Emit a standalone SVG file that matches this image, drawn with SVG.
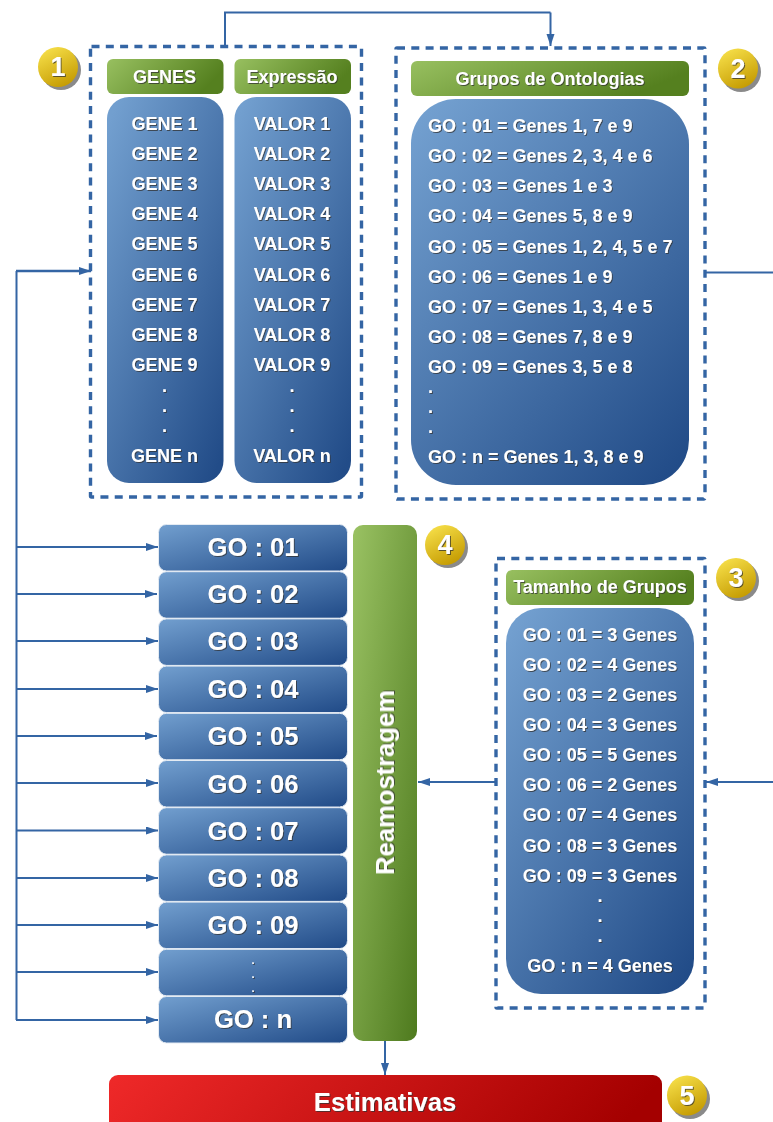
<svg xmlns="http://www.w3.org/2000/svg" width="773" height="1122" viewBox="0 0 773 1122">
<defs>
<linearGradient id="blue" x1="0" y1="0" x2="1" y2="1"><stop offset="0" stop-color="#729fcf"/><stop offset="1" stop-color="#204a87"/></linearGradient>
<linearGradient id="green" x1="0" y1="0" x2="1" y2="1"><stop offset="0" stop-color="#9ac263"/><stop offset="1" stop-color="#4e7a1e"/></linearGradient>
<linearGradient id="greenH" x1="0" y1="0" x2="1" y2="0.3"><stop offset="0" stop-color="#98c060"/><stop offset="1" stop-color="#55801f"/></linearGradient>
<linearGradient id="red" x1="0" y1="0" x2="1" y2="0.1"><stop offset="0" stop-color="#ef2929"/><stop offset="1" stop-color="#a40000"/></linearGradient>
<linearGradient id="gold" x1="0.2" y1="0" x2="0.7" y2="1"><stop offset="0" stop-color="#f7e04a"/><stop offset="1" stop-color="#c49a00"/></linearGradient>
<linearGradient id="tall" x1="0.1" y1="0" x2="0.9" y2="1"><stop offset="0" stop-color="#729fcf"/><stop offset="1" stop-color="#224c88"/></linearGradient>
<filter id="ts" x="-10%" y="-30%" width="125%" height="170%"><feDropShadow dx="1" dy="1" stdDeviation="0.4" flood-color="#333" flood-opacity="0.75"/></filter>
<filter id="tv" x="-30%" y="-10%" width="170%" height="125%"><feDropShadow dx="1" dy="1" stdDeviation="0.4" flood-color="#333" flood-opacity="0.75"/></filter>
<marker id="arr" markerUnits="userSpaceOnUse" markerWidth="13" markerHeight="10" refX="12" refY="4" orient="auto"><path d="M0 0L12 4L0 8Z" fill="#3465a4"/></marker>
</defs>
<style>
text{font-family:"Liberation Sans",Arial,sans-serif;font-weight:700;fill:#fff;text-anchor:middle;filter:url(#ts)}
.frame{fill:none;stroke:#3465a4;stroke-width:3.4;stroke-dasharray:8 6.3}
.line{fill:none;stroke:#3465a4;stroke-width:2}
.arrow{fill:none;stroke:#3465a4;stroke-width:2;marker-end:url(#arr)}
.tall{fill:url(#tall)}
.hdr{fill:url(#greenH)}
.go{fill:url(#blue);stroke:#e4ebf3;stroke-width:1}
.t16{font-size:18px}
.tl{font-size:18px;text-anchor:start}
.tg{font-size:25.6px}
.s{font-size:18px}
.badgeS{fill:#8a8a8a}
.badge{fill:url(#gold)}
.bt{font-size:27px}
</style>

<g id="connectors">
<path class="line" d="M225 46V12.500H550.500"/>
<path class="arrow" d="M550.500 12.500V46"/>
<path class="line" d="M16.500 271V1020"/>
<path class="arrow" style="stroke-width:2.6" d="M16 271H91"/>
<path class="arrow" d="M16 547H158"/>
<path class="arrow" d="M16 594H157"/>
<path class="arrow" d="M16 641H158"/>
<path class="arrow" d="M16 689H158"/>
<path class="arrow" d="M16 736H157"/>
<path class="arrow" d="M16 783H158"/>
<path class="arrow" d="M16 830.500H158"/>
<path class="arrow" d="M16 878H158"/>
<path class="arrow" d="M16 925H158"/>
<path class="arrow" d="M16 972H158"/>
<path class="arrow" d="M16 1020H158"/>
<path class="line" d="M705 272.500H773"/>
<path class="arrow" d="M773 782H706"/>
<path class="arrow" d="M495 782H418"/>
<path class="arrow" d="M385 1041V1075"/>
</g>

<g id="node-1">
<rect class="frame" x="90.500" y="46.500" width="271" height="450.500" rx="1"/>
<rect class="hdr" x="107" y="59" width="116.500" height="35" rx="6"/>
<text class="t16" x="164.500" y="82.500">GENES</text>
<rect class="hdr" x="234.500" y="59" width="116.500" height="35" rx="6"/>
<text class="t16" x="292" y="82.500">Expressão</text>
<rect class="tall" x="107" y="97" width="116.500" height="386" rx="22"/>
<rect class="tall" x="234.500" y="97" width="116.500" height="386" rx="22"/>
<text class="s" x="164.500" y="130">GENE 1</text><text class="s" x="292" y="130">VALOR 1</text>
<text class="s" x="164.500" y="160">GENE 2</text><text class="s" x="292" y="160">VALOR 2</text>
<text class="s" x="164.500" y="190">GENE 3</text><text class="s" x="292" y="190">VALOR 3</text>
<text class="s" x="164.500" y="220">GENE 4</text><text class="s" x="292" y="220">VALOR 4</text>
<text class="s" x="164.500" y="250">GENE 5</text><text class="s" x="292" y="250">VALOR 5</text>
<text class="s" x="164.500" y="280.500">GENE 6</text><text class="s" x="292" y="280.500">VALOR 6</text>
<text class="s" x="164.500" y="310.500">GENE 7</text><text class="s" x="292" y="310.500">VALOR 7</text>
<text class="s" x="164.500" y="340.500">GENE 8</text><text class="s" x="292" y="340.500">VALOR 8</text>
<text class="s" x="164.500" y="371">GENE 9</text><text class="s" x="292" y="371">VALOR 9</text>
<text class="s" x="164.500" y="391.500">.</text><text class="s" x="292" y="391.500">.</text>
<text class="s" x="164.500" y="411.500">.</text><text class="s" x="292" y="411.500">.</text>
<text class="s" x="164.500" y="431.500">.</text><text class="s" x="292" y="431.500">.</text>
<text class="s" x="164.500" y="461.500">GENE n</text><text class="s" x="292" y="461.500">VALOR n</text>
</g>

<g id="node-2">
<rect class="frame" x="396" y="48" width="309" height="451" rx="1"/>
<rect class="hdr" x="411" y="61" width="278" height="35" rx="6"/>
<text class="t16" x="550" y="84.500">Grupos de Ontologias</text>
<rect class="tall" x="411" y="99" width="278" height="386" rx="45"/>
<text class="tl" x="428" y="132">GO : 01 = Genes 1, 7 e 9</text>
<text class="tl" x="428" y="162">GO : 02 = Genes 2, 3, 4 e 6</text>
<text class="tl" x="428" y="192">GO : 03 = Genes 1 e 3</text>
<text class="tl" x="428" y="222">GO : 04 = Genes 5, 8 e 9</text>
<text class="tl" x="428" y="252.500">GO : 05 = Genes 1, 2, 4, 5 e 7</text>
<text class="tl" x="428" y="282.500">GO : 06 = Genes 1 e 9</text>
<text class="tl" x="428" y="312.500">GO : 07 = Genes 1, 3, 4 e 5</text>
<text class="tl" x="428" y="342.500">GO : 08 = Genes 7, 8 e 9</text>
<text class="tl" x="428" y="373">GO : 09 = Genes 3, 5 e 8</text>
<text class="tl" x="428" y="393">.</text>
<text class="tl" x="428" y="413">.</text>
<text class="tl" x="428" y="433">.</text>
<text class="tl" x="428" y="463">GO : n = Genes 1, 3, 8 e 9</text>
</g>

<g id="node-3">
<rect class="frame" x="496" y="558.500" width="209" height="449.500" rx="1"/>
<rect class="hdr" x="506" y="570" width="188" height="35" rx="6"/>
<text class="t16" x="600" y="593">Tamanho de Grupos</text>
<rect class="tall" x="506" y="608" width="188" height="386" rx="35"/>
<text class="s" x="600" y="641">GO : 01 = 3 Genes</text>
<text class="s" x="600" y="671">GO : 02 = 4 Genes</text>
<text class="s" x="600" y="701">GO : 03 = 2 Genes</text>
<text class="s" x="600" y="731">GO : 04 = 3 Genes</text>
<text class="s" x="600" y="761">GO : 05 = 5 Genes</text>
<text class="s" x="600" y="791">GO : 06 = 2 Genes</text>
<text class="s" x="600" y="821">GO : 07 = 4 Genes</text>
<text class="s" x="600" y="851.500">GO : 08 = 3 Genes</text>
<text class="s" x="600" y="881.500">GO : 09 = 3 Genes</text>
<text class="s" x="600" y="902">.</text>
<text class="s" x="600" y="922">.</text>
<text class="s" x="600" y="942">.</text>
<text class="s" x="600" y="972">GO : n = 4 Genes</text>
</g>

<g id="node-4">
<rect class="go" x="158.500" y="524.500" width="189" height="46.500" rx="8"/><text class="tg" x="253" y="556">GO : 01</text>
<rect class="go" x="158.500" y="571.700" width="189" height="46.500" rx="8"/><text class="tg" x="253" y="603">GO : 02</text>
<rect class="go" x="158.500" y="618.900" width="189" height="46.500" rx="8"/><text class="tg" x="253" y="650">GO : 03</text>
<rect class="go" x="158.500" y="666.100" width="189" height="46.500" rx="8"/><text class="tg" x="253" y="698">GO : 04</text>
<rect class="go" x="158.500" y="713.300" width="189" height="46.500" rx="8"/><text class="tg" x="253" y="745">GO : 05</text>
<rect class="go" x="158.500" y="760.500" width="189" height="46.500" rx="8"/><text class="tg" x="253" y="792.500">GO : 06</text>
<rect class="go" x="158.500" y="807.700" width="189" height="46.500" rx="8"/><text class="tg" x="253" y="840">GO : 07</text>
<rect class="go" x="158.500" y="854.900" width="189" height="46.500" rx="8"/><text class="tg" x="253" y="887">GO : 08</text>
<rect class="go" x="158.500" y="902.100" width="189" height="46.500" rx="8"/><text class="tg" x="253" y="934">GO : 09</text>
<rect class="go" x="158.500" y="949.300" width="189" height="46.500" rx="8"/>
<text style="font-size:11px" x="253" y="964">.</text><text style="font-size:11px" x="253" y="978">.</text><text style="font-size:11px" x="253" y="992">.</text>
<rect class="go" x="158.500" y="996.500" width="189" height="46.500" rx="8"/><text class="tg" x="253" y="1028">GO : n</text>
<rect x="353" y="525" width="64" height="516" rx="10" fill="url(#green)"/>
<text transform="translate(394 782.500) rotate(-90)" style="font-size:25.6px;filter:url(#tv)">Reamostragem</text>
</g>

<g id="node-5">
<rect x="109" y="1075" width="553" height="60" rx="9" fill="url(#red)"/>
<text x="385" y="1110.500" style="font-size:25.6px">Estimativas</text>
</g>

<g id="badge-1"><circle class="badgeS" cx="61" cy="70" r="20"/><circle class="badge" cx="58" cy="67" r="20"/><text class="bt" x="58" y="76">1</text></g>
<g id="badge-2"><circle class="badgeS" cx="741" cy="72" r="20"/><circle class="badge" cx="738" cy="68.500" r="20"/><text class="bt" x="738" y="77.500">2</text></g>
<g id="badge-3"><circle class="badgeS" cx="739" cy="581" r="20"/><circle class="badge" cx="736" cy="578" r="20"/><text class="bt" x="736" y="587">3</text></g>
<g id="badge-4"><circle class="badgeS" cx="448" cy="548" r="20"/><circle class="badge" cx="445" cy="545" r="20"/><text class="bt" x="445" y="554">4</text></g>
<g id="badge-5"><circle class="badgeS" cx="690" cy="1099" r="20"/><circle class="badge" cx="687" cy="1095.500" r="20"/><text class="bt" x="687" y="1104.500">5</text></g>
</svg>
